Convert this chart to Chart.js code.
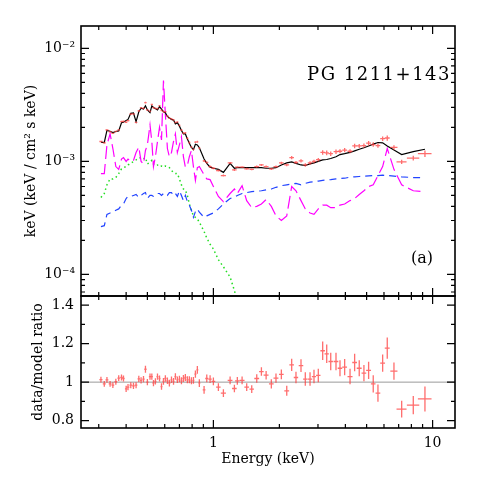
<!DOCTYPE html>
<html>
<head>
<meta charset="utf-8">
<script src="https://cdn.jsdelivr.net/npm/chart.js@4"></script>
<style>
  html, body { margin: 0; padding: 0; background: #fff; }
  #wrap { width: 480px; height: 480px; }
</style>
</head>
<body>
<div id="wrap"><canvas id="spec" width="480" height="480"></canvas></div>
<script>
// Energy bins (keV) and half widths
const energies = [0.307,0.318,0.327,0.338,0.348,0.359,0.370,0.381,0.389,0.400,
  0.408,0.420,0.432,0.444,0.457,0.468,0.480,0.490,0.500,0.514,
  0.524,0.533,0.544,0.556,0.568,0.580,0.592,0.604,0.617,0.630,
  0.644,0.658,0.671,0.685,0.700,0.715,0.730,0.745,0.761,0.777,
  0.794,0.811,0.828,0.845,0.863,0.907,0.933,0.966,1.000,1.054,
  1.111,1.192,1.247,1.286,1.352,1.419,1.496,1.577,1.656,1.740,
  1.838,1.930,2.042,2.161,2.276,2.381,2.510,2.626,2.760,2.877,
  3.010,3.152,3.288,3.430,3.625,3.780,3.970,4.201,4.409,4.627,
  4.861,5.106,5.360,5.632,5.917,6.210,6.663,7.225,8.162,9.226];
const binHalfWidth = [0.005,0.005,0.005,0.005,0.005,0.005,0.005,0.005,0.005,0.005,
  0.006,0.006,0.006,0.006,0.006,0.006,0.006,0.006,0.006,0.006,
  0.006,0.006,0.006,0.006,0.006,0.006,0.006,0.007,0.007,0.007,
  0.007,0.007,0.007,0.007,0.007,0.008,0.008,0.008,0.008,0.008,
  0.008,0.008,0.009,0.009,0.009,0.013,0.015,0.017,0.020,0.025,
  0.030,0.030,0.030,0.030,0.035,0.035,0.035,0.040,0.040,0.045,
  0.045,0.050,0.050,0.055,0.055,0.055,0.060,0.060,0.065,0.065,
  0.070,0.075,0.075,0.080,0.090,0.090,0.100,0.110,0.110,0.120,
  0.120,0.130,0.130,0.140,0.150,0.160,0.250,0.380,0.530,0.660];

// unfolded spectrum, units of 1e-3 keV/(cm2 s keV)
const FLUX_UNIT = 1e-3;
const fluxData = [1.50,1.46,1.90,1.83,1.77,1.84,1.90,2.25,2.26,2.22,
  2.29,2.62,2.63,2.21,2.80,2.98,2.95,3.31,2.85,2.78,
  3.19,2.99,2.94,2.93,3.11,2.83,2.76,2.75,2.52,2.41,
  2.38,2.33,2.21,2.23,2.08,1.89,1.78,1.79,1.60,1.47,
  1.34,1.28,1.48,1.49,1.31,1.01,0.98,0.90,0.87,0.83,
  0.75,0.97,0.84,0.89,0.89,0.86,0.85,0.90,0.93,0.90,
  0.86,0.90,0.97,0.93,1.08,0.98,1.01,0.93,0.97,1.00,
  1.035,1.20,1.19,1.17,1.22,1.23,1.26,1.23,1.37,1.37,
  1.38,1.45,1.41,1.38,1.59,1.61,1.33,0.99,1.07,1.17];
const modelTotal = [1.48,1.47,1.88,1.85,1.80,1.84,1.86,2.20,2.22,2.30,
  2.35,2.66,2.68,2.25,2.75,2.95,2.90,3.10,2.85,2.70,
  3.10,3.00,2.93,2.85,3.05,2.90,2.75,2.70,2.50,2.42,
  2.35,2.32,2.15,2.20,2.05,1.88,1.75,1.75,1.58,1.45,
  1.33,1.27,1.42,1.40,1.32,1.05,0.96,0.89,0.87,0.85,
  0.80,0.96,0.87,0.88,0.88,0.88,0.88,0.88,0.88,0.87,
  0.87,0.88,0.93,0.97,0.99,0.96,0.93,0.92,0.95,0.97,
  1.00,1.03,1.04,1.06,1.10,1.15,1.17,1.20,1.24,1.28,
  1.32,1.37,1.42,1.47,1.46,1.37,1.26,1.15,1.22,1.28];
const modelReflection = [0.78,0.78,1.40,1.75,1.30,0.90,0.85,1.05,1.08,1.00,
  1.05,1.00,1.02,1.20,1.34,1.00,0.95,1.25,1.40,2.10,
  1.50,0.90,1.10,1.50,2.00,1.55,5.20,2.60,1.30,1.10,
  1.20,1.50,1.75,1.20,1.40,1.65,1.10,0.89,0.92,1.10,
  1.25,0.90,0.68,0.88,0.90,0.76,0.70,0.69,0.60,0.49,
  0.44,0.52,0.57,0.52,0.61,0.45,0.39,0.40,0.42,0.46,
  0.40,0.33,0.30,0.33,0.60,0.55,0.45,0.38,0.35,0.34,
  0.38,0.41,0.41,0.39,0.39,0.41,0.42,0.45,0.47,0.51,
  0.55,0.60,0.62,0.75,0.90,1.30,0.85,0.62,0.55,0.54];
const modelPowerLaw = [0.265,0.27,0.34,0.35,0.355,0.37,0.38,0.41,0.42,0.47,
  0.49,0.49,0.50,0.51,0.48,0.50,0.52,0.53,0.47,0.50,
  0.50,0.49,0.50,0.52,0.52,0.50,0.52,0.52,0.50,0.53,
  0.53,0.50,0.52,0.49,0.55,0.50,0.45,0.50,0.44,0.41,
  0.37,0.32,0.36,0.38,0.355,0.32,0.33,0.34,0.35,0.38,
  0.42,0.47,0.48,0.50,0.52,0.53,0.54,0.545,0.55,0.56,
  0.57,0.59,0.61,0.62,0.63,0.64,0.62,0.64,0.655,0.66,
  0.67,0.68,0.685,0.69,0.70,0.705,0.71,0.725,0.73,0.735,
  0.74,0.745,0.75,0.75,0.755,0.75,0.74,0.73,0.72,0.72];
const modelSoft = [0.48,0.52,0.62,0.70,0.70,0.72,0.78,0.86,0.88,0.90,
  0.93,0.96,1.00,1.03,1.07,1.08,1.05,1.08,0.95,0.98,
  1.02,0.95,0.92,0.93,0.90,0.91,0.89,0.91,0.90,0.88,
  0.83,0.80,0.78,0.78,0.70,0.62,0.57,0.56,0.50,0.42,
  0.37,0.33,0.32,0.31,0.29,0.24,0.21,0.185,0.168,0.135,
  0.117,0.095,0.072,0.058,0.045];

// data/model ratio
const ratio = [1.013,0.991,1.012,0.991,0.984,1.002,1.021,1.024,1.019,0.965,
  0.974,0.984,0.981,0.984,1.017,1.009,1.016,1.067,1.000,1.029,
  1.029,0.995,1.004,1.029,1.019,0.977,1.004,1.019,1.007,0.995,
  1.012,1.004,1.029,1.012,1.016,1.007,1.019,1.024,1.012,1.012,
  1.007,1.009,1.042,1.064,0.995,0.960,1.019,1.016,1.004,0.974,
  0.943,1.009,0.967,1.007,1.009,0.974,0.964,1.019,1.055,1.036,
  0.991,1.021,1.040,0.955,1.090,1.024,1.086,1.016,1.016,1.029,
  1.035,1.163,1.147,1.107,1.107,1.072,1.078,1.029,1.102,1.072,
  1.047,1.061,0.991,0.943,1.099,1.177,1.057,0.860,0.881,0.913];
const ratioErr = [0.015,0.015,0.015,0.015,0.015,0.015,0.015,0.016,0.016,0.016,
  0.016,0.016,0.016,0.016,0.016,0.016,0.016,0.018,0.016,0.016,
  0.016,0.016,0.016,0.016,0.016,0.017,0.017,0.017,0.017,0.017,
  0.017,0.017,0.017,0.017,0.017,0.018,0.018,0.018,0.018,0.018,
  0.018,0.018,0.019,0.020,0.020,0.020,0.020,0.020,0.020,0.020,
  0.020,0.020,0.020,0.020,0.020,0.020,0.020,0.022,0.022,0.022,
  0.024,0.024,0.025,0.026,0.032,0.030,0.033,0.035,0.035,0.035,
  0.035,0.048,0.048,0.045,0.045,0.042,0.042,0.040,0.045,0.042,
  0.042,0.045,0.045,0.045,0.045,0.055,0.045,0.043,0.047,0.065];

// axes
const xRange = [0.249, 12.65];
const fluxRange = [6.45e-5, 1.576e-2];
const ratioRange = [0.762, 1.447];
const xMajorTicks = [1, 10];
const xMinorTicks = [0.3,0.4,0.5,0.6,0.7,0.8,0.9,2,3,4,5,6,7,8,9];
const fluxMajorTicks = [1e-4, 1e-3, 1e-2];
const fluxTickLabels = ['10\u207B\u2074', '10\u207B\u00B3', '10\u207B\u00B2'];
const fluxMinorTicks = [7e-5,8e-5,9e-5,2e-4,3e-4,4e-4,5e-4,6e-4,7e-4,8e-4,9e-4,
  2e-3,3e-3,4e-3,5e-3,6e-3,7e-3,8e-3,9e-3];
const ratioMajorTicks = [0.8, 1, 1.2, 1.4];
const ratioTickLabels = ['0.8', '1', '1.2', '1.4'];
const ratioMinorTicks = [0.9, 1.1, 1.3];

const pts = (vals, unit) => vals.map((v, i) => ({x: energies[i], y: v * unit}));

Chart.defaults.font.family = '"DejaVu Serif", serif';
Chart.defaults.font.size = 14;
Chart.defaults.color = '#000';

function drawCrosses(chart, dsIndex, yScale, errs, relative) {
    const ctx = chart.ctx;
    const xs = chart.scales.x;
    const data = chart.data.datasets[dsIndex].data;
    ctx.save();
    ctx.beginPath();
    ctx.rect(xs.left, yScale.top, xs.right - xs.left, yScale.bottom - yScale.top);
    ctx.clip();
    ctx.strokeStyle = 'rgba(255, 60, 60, 0.75)';
    ctx.lineWidth = 1.3;
    data.forEach((p, i) => {
        const e = relative ? p.y * errs[i] : errs[i];
        const px = xs.getPixelForValue(p.x);
        const py = yScale.getPixelForValue(p.y);
        ctx.beginPath();
        ctx.moveTo(xs.getPixelForValue(p.x - binHalfWidth[i]), py);
        ctx.lineTo(xs.getPixelForValue(p.x + binHalfWidth[i]), py);
        ctx.moveTo(px, yScale.getPixelForValue(p.y - e));
        ctx.lineTo(px, yScale.getPixelForValue(p.y + e));
        ctx.stroke();
    });
    ctx.restore();
}

function drawPanel(ctx, xs, ys, yMajor, yMinor) {
    const l = xs.left, r = xs.right, t = ys.top, b = ys.bottom;
    ctx.beginPath();
    const xTick = (vals, len) => vals.forEach(v => {
        const px = xs.getPixelForValue(v);
        ctx.moveTo(px, t); ctx.lineTo(px, t + len);
        ctx.moveTo(px, b); ctx.lineTo(px, b - len);
    });
    const yTick = (vals, len) => vals.forEach(v => {
        const py = ys.getPixelForValue(v);
        ctx.moveTo(l, py); ctx.lineTo(l + len, py);
        ctx.moveTo(r, py); ctx.lineTo(r - len, py);
    });
    xTick(xMajorTicks, 8);
    xTick(xMinorTicks, 4);
    yTick(yMajor, 8);
    yTick(yMinor, 4);
    ctx.lineWidth = 1.2;
    ctx.stroke();
    ctx.lineWidth = 1.6;
    ctx.strokeRect(l, t, r - l, b - t);
}

const panelPlugin = {
    id: 'panelPlugin',
    beforeDatasetsDraw(chart) {
        const ctx = chart.ctx;
        const xs = chart.scales.x, yr = chart.scales.yRatio;
        const y1 = yr.getPixelForValue(1);
        ctx.save();
        ctx.strokeStyle = '#9a9a9a';
        ctx.lineWidth = 1;
        ctx.beginPath();
        ctx.moveTo(xs.left, y1);
        ctx.lineTo(xs.right, y1);
        ctx.stroke();
        ctx.restore();
    },
    afterDatasetsDraw(chart) {
        const ctx = chart.ctx;
        const xs = chart.scales.x, yf = chart.scales.yFlux, yr = chart.scales.yRatio;
        drawCrosses(chart, 0, yf, ratioErr, true);
        drawCrosses(chart, 5, yr, ratioErr, false);
        ctx.save();
        ctx.strokeStyle = '#000';
        drawPanel(ctx, xs, yf, fluxMajorTicks, fluxMinorTicks);
        drawPanel(ctx, xs, yr, ratioMajorTicks, ratioMinorTicks);
        ctx.fillStyle = '#000';
        ctx.textBaseline = 'middle';
        ctx.textAlign = 'right';
        ctx.font = '18px "DejaVu Serif", serif';
        ctx.letterSpacing = '1.5px';
        ctx.fillText('PG 1211+143', 451, 75);
        ctx.font = '16px "DejaVu Serif", serif';
        ctx.letterSpacing = '0px';
        ctx.fillText('(a)', 433, 259);
        ctx.restore();
    }
};

const lineStyle = (color, dash, width) => ({
    borderColor: color, borderDash: dash, borderWidth: width,
    pointRadius: 0, fill: false, tension: 0, yAxisID: 'yFlux'
});

new Chart(document.getElementById('spec'), {
    type: 'line',
    data: {
        datasets: [
            { label: 'data', data: pts(fluxData, FLUX_UNIT), showLine: false, pointRadius: 0, yAxisID: 'yFlux' },
            { label: 'model', data: pts(modelTotal, FLUX_UNIT), ...lineStyle('#000000', [], 1.2) },
            { label: 'reflection', data: pts(modelReflection, FLUX_UNIT), ...lineStyle('#ff00ff', [13, 5], 1.2) },
            { label: 'power law', data: pts(modelPowerLaw, FLUX_UNIT), ...lineStyle('#2244ff', [7, 5], 1.2) },
            { label: 'soft', data: pts(modelSoft, FLUX_UNIT), ...lineStyle('#22dd22', [1.5, 3], 1.5) },
            { label: 'ratio', data: pts(ratio, 1), showLine: false, pointRadius: 0, yAxisID: 'yRatio' }
        ]
    },
    options: {
        responsive: false,
        animation: false,
        events: [],
        layout: { padding: { left: 0, right: 25, top: 26, bottom: 0 } },
        plugins: { legend: { display: false }, tooltip: { enabled: false } },
        scales: {
            x: {
                type: 'logarithmic',
                min: xRange[0], max: xRange[1],
                grid: { display: false, drawTicks: false },
                border: { display: false },
                afterBuildTicks: s => { s.ticks = xMajorTicks.map(v => ({ value: v })); },
                afterFit: s => { s.height = 52; },
                ticks: { autoSkip: false, maxRotation: 0, padding: 7, callback: v => String(v) },
                title: { display: true, text: 'Energy (keV)', padding: { top: 0, bottom: 12 } }
            },
            yRatio: {
                type: 'linear', position: 'left', stack: 'panels', stackWeight: 132,
                min: ratioRange[0], max: ratioRange[1],
                grid: { display: false, drawTicks: false },
                border: { display: false },
                afterBuildTicks: s => { s.ticks = ratioMajorTicks.map(v => ({ value: v })); },
                afterFit: s => { s.width = 81; },
                ticks: { autoSkip: false, padding: 7, callback: (v, i) => ratioTickLabels[i] },
                title: { display: true, text: 'data/model ratio', padding: { top: 30, bottom: 0 } }
            },
            yFlux: {
                type: 'logarithmic', position: 'left', stack: 'panels', stackWeight: 270,
                min: fluxRange[0], max: fluxRange[1],
                grid: { display: false, drawTicks: false },
                border: { display: false },
                afterBuildTicks: s => { s.ticks = fluxMajorTicks.map(v => ({ value: v })); },
                afterFit: s => { s.width = 81; },
                ticks: { autoSkip: false, padding: 6, callback: (v, i) => fluxTickLabels[i] },
                title: { display: true, text: 'keV (keV / cm\u00B2 s keV)', padding: { top: 23, bottom: 0 } }
            }
        }
    },
    plugins: [panelPlugin]
});
</script>
</body>
</html>
